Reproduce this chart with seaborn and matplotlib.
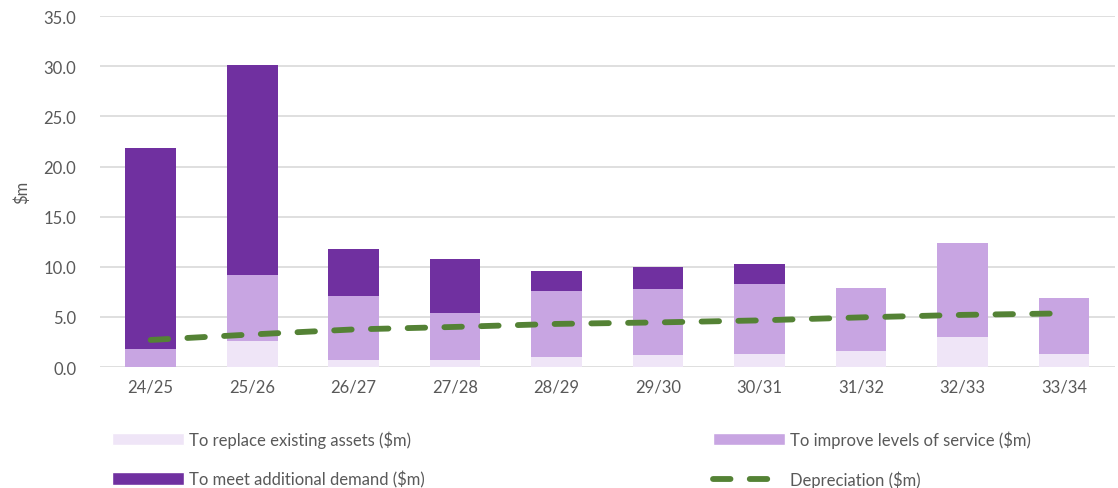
import numpy as np
import pandas as pd
import matplotlib
matplotlib.use("Agg")
import matplotlib.pyplot as plt
import seaborn as sns
from matplotlib.patches import Patch
from matplotlib.lines import Line2D

# valeurs ($m)
years = ["24/25", "25/26", "26/27", "27/28", "28/29", "29/30", "30/31", "31/32", "32/33", "33/34"]
replace_assets = [0.0, 2.6, 0.7, 0.7, 0.95, 1.2, 1.3, 1.6, 3.0, 1.3]
improve_service = [1.75, 6.6, 6.35, 4.7, 6.6, 6.6, 7.0, 6.3, 9.4, 5.6]
additional_demand = [20.05, 20.9, 4.75, 5.4, 2.05, 2.2, 2.0, 0.0, 0.0, 0.0]
depreciation = [2.7, 3.25, 3.75, 4.0, 4.3, 4.45, 4.65, 4.95, 5.2, 5.35]

c_replace = "#EFE5F7"
c_improve = "#C8A5E2"
c_demand = "#7030A0"
c_dep = "#548235"
txt = "#595959"

sns.set_theme(style="white")
plt.rcParams["font.family"] = ["Lato", "DejaVu Sans"]

df = pd.DataFrame({
    "year": years,
    "replace": replace_assets,
    "improve": improve_service,
    "demand": additional_demand,
    "dep": depreciation,
})
base2 = df["replace"].values
base3 = base2 + df["improve"].values

fig = plt.figure(figsize=(11.18, 4.89), dpi=100)
ax = fig.add_axes([0.0894, 0.2474, 0.9076, 0.7176])

sns.barplot(data=df, x="year", y="replace", color=c_replace, width=0.5,
            linewidth=0, ax=ax, saturation=1)
sns.barplot(data=df, x="year", y="improve", color=c_improve, width=0.5,
            bottom=base2, linewidth=0, ax=ax, saturation=1)
sns.barplot(data=df, x="year", y="demand", color=c_demand, width=0.5,
            bottom=base3, linewidth=0, ax=ax, saturation=1)
sns.lineplot(data=df, x="year", y="dep", sort=False, color=c_dep, lw=4.2,
             dashes=False, ax=ax)
ln = ax.lines[-1]
ln.set_dashes((3.0, 3.3))
ln.set_dash_capstyle("round")

ax.set_ylim(0, 35)
ax.set_xlim(-0.5, len(years) - 0.5)
ax.set_yticks(np.arange(0, 35.1, 5))
ax.set_yticklabels([f"{v:.1f}" for v in np.arange(0, 35.1, 5)])
ax.yaxis.grid(True, color="#D9D9D9", lw=1.2)
ax.set_axisbelow(True)
for s in ax.spines.values():
    s.set_visible(False)
ax.tick_params(axis="both", length=0, labelsize=12, colors=txt, pad=8)
ax.tick_params(axis="y", pad=17)
ax.set_xlabel("")
ax.set_ylabel("$m", fontsize=12, color=txt, labelpad=10)

handles = [
    Patch(facecolor=c_replace, label="To replace existing assets ($m)"),
    Patch(facecolor=c_demand, label="To meet additional demand ($m)"),
    Patch(facecolor=c_improve, label="To improve levels of service ($m)"),
    Line2D([0], [0], color=c_dep, lw=4.2, dashes=(3.0, 3.3),
           dash_capstyle="round", label="Depreciation ($m)"),
]
fig.legend(handles=handles, ncol=2, loc="lower left",
           bbox_to_anchor=(0.087, -0.03), frameon=False, fontsize=12,
           labelcolor=txt, handlelength=4.3, handleheight=0.75,
           handletextpad=0.3, columnspacing=17.3, labelspacing=1.35)

fig.savefig("out.png", dpi=100)
